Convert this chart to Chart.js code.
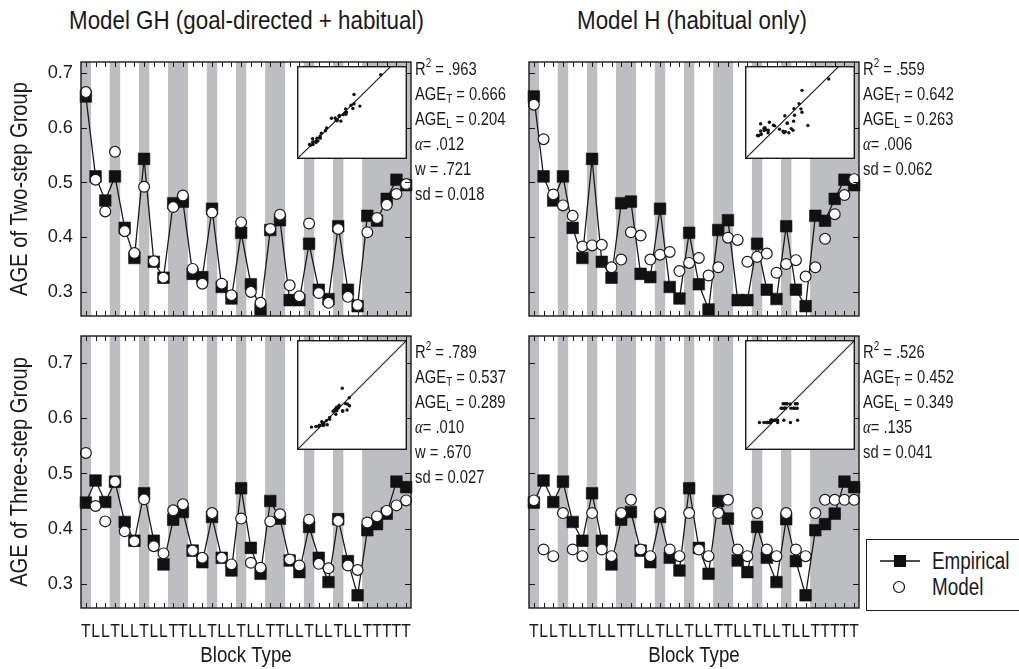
<!DOCTYPE html>
<html>
<head>
<meta charset="utf-8">
<script src="https://cdn.jsdelivr.net/npm/chart.js@4.4.1/dist/chart.umd.min.js"></script>
<style>
  html, body { margin: 0; padding: 0; background: #fff; }
  body { width: 1019px; height: 669px; position: relative; overflow: hidden;
         font-family: "Liberation Sans", Arial, sans-serif; color: #1a1a1a; }
  canvas { position: absolute; }
  .txt { position: absolute; white-space: nowrap; }
  .title { font-size: 26px; line-height: 30px; text-align: center; transform: scaleX(0.86); transform-origin: center; }
  .stats { font-size: 18px; line-height: 25px; transform: scaleX(0.82); transform-origin: left top; }
  .stats sub { font-size: 12px; vertical-align: -3px; line-height: 0; }
  .stats sup { font-size: 12px; vertical-align: 8px; line-height: 0; }
  .alpha { font-family: "Liberation Serif", "DejaVu Serif", serif; font-style: italic; }
  .legend { position: absolute; left: 866px; top: 539px; width: 170px; height: 70px;
            border: 1.5px solid #1a1a1a; background: #fff; }
  .legend .row { position: absolute; height: 26px; font-size: 23px; line-height: 26px;
                 transform: scaleX(0.82); transform-origin: left center; }
  .legend svg { position: absolute; left: 0; top: 0; }
</style>
</head>
<body>
<div class="txt title" style="left:41px;width:400px;top:5px;">Model GH (goal-directed + habitual)</div>
<div class="txt title" style="left:492px;width:400px;top:5px;">Model H (habitual only)</div>

<canvas id="pTL" width="420" height="294" style="left:0;top:42px;width:420px;height:294px"></canvas>
<canvas id="pTR" width="368" height="294" style="left:500px;top:42px;width:368px;height:294px"></canvas>
<canvas id="pBL" width="420" height="353" style="left:0;top:316px;width:420px;height:353px"></canvas>
<canvas id="pBR" width="368" height="353" style="left:500px;top:316px;width:368px;height:353px"></canvas>

<canvas id="iTL" width="118" height="101" style="left:293px;top:62px;width:118px;height:101px"></canvas>
<canvas id="iTR" width="118" height="101" style="left:741px;top:62px;width:118px;height:101px"></canvas>
<canvas id="iBL" width="118" height="118" style="left:293px;top:336px;width:118px;height:118px"></canvas>
<canvas id="iBR" width="118" height="118" style="left:741px;top:336px;width:118px;height:118px"></canvas>

<div class="txt stats" style="left:415px;top:57px;">
  <div>R<sup>2</sup> = .963</div>
  <div>AGE<sub>T</sub> = 0.666</div>
  <div>AGE<sub>L</sub> = 0.204</div>
  <div><span class="alpha">α</span>= .012</div>
  <div>w = .721</div>
  <div>sd = 0.018</div>
</div>
<div class="txt stats" style="left:863px;top:57px;">
  <div>R<sup>2</sup> = .559</div>
  <div>AGE<sub>T</sub> = 0.642</div>
  <div>AGE<sub>L</sub> = 0.263</div>
  <div><span class="alpha">α</span>= .006</div>
  <div>sd = 0.062</div>
</div>
<div class="txt stats" style="left:415px;top:340px;">
  <div>R<sup>2</sup> = .789</div>
  <div>AGE<sub>T</sub> = 0.537</div>
  <div>AGE<sub>L</sub> = 0.289</div>
  <div><span class="alpha">α</span>= .010</div>
  <div>w = .670</div>
  <div>sd = 0.027</div>
</div>
<div class="txt stats" style="left:863px;top:340px;">
  <div>R<sup>2</sup> = .526</div>
  <div>AGE<sub>T</sub> = 0.452</div>
  <div>AGE<sub>L</sub> = 0.349</div>
  <div><span class="alpha">α</span>= .135</div>
  <div>sd = 0.041</div>
</div>

<div class="legend">
  <svg width="70" height="70">
    <line x1="13" y1="21" x2="53" y2="21" stroke="#111" stroke-width="1.3"/>
    <rect x="27" y="15" width="12" height="12" fill="#111"/>
    <circle cx="32" cy="47" r="5.5" fill="#fff" stroke="#111" stroke-width="1.2"/>
  </svg>
  <div class="row" style="left:65px;top:8px;">Empirical</div>
  <div class="row" style="left:65px;top:34px;">Model</div>
</div>

<script>
// Block sequence (T and L blocks in presentation order)
const blockTypes = ['T','L','L','T','L','L','T','L','L','T','T','L','L','T','L','L','T','L','L',
                    'T','T','L','L','T','L','L','T','L','L','T','T','T','T','T'];

// Two-step group
const empiricalTwoStep = [0.657, 0.511, 0.467, 0.511, 0.417, 0.362, 0.543, 0.355, 0.326, 0.462,
                          0.465, 0.333, 0.327, 0.452, 0.309, 0.288, 0.408, 0.314, 0.268, 0.413,
                          0.431, 0.285, 0.285, 0.388, 0.304, 0.287, 0.420, 0.304, 0.274, 0.439,
                          0.430, 0.470, 0.505, 0.495];
const modelGHTwoStep = [0.665, 0.505, 0.447, 0.556, 0.411, 0.371, 0.492, 0.356, 0.326, 0.455,
                        0.476, 0.342, 0.315, 0.445, 0.315, 0.294, 0.427, 0.300, 0.280, 0.415,
                        0.441, 0.312, 0.292, 0.425, 0.298, 0.280, 0.415, 0.291, 0.276, 0.409,
                        0.435, 0.459, 0.479, 0.497];
const modelHTwoStep = [0.642, 0.579, 0.478, 0.458, 0.439, 0.383, 0.385, 0.386, 0.345, 0.359,
                       0.409, 0.403, 0.359, 0.368, 0.373, 0.338, 0.353, 0.362, 0.330, 0.345,
                       0.399, 0.395, 0.355, 0.364, 0.370, 0.335, 0.351, 0.358, 0.328, 0.345,
                       0.397, 0.442, 0.477, 0.506];

// Three-step group
const empiricalThreeStep = [0.447, 0.487, 0.448, 0.485, 0.412, 0.378, 0.464, 0.378, 0.335, 0.416,
                            0.430, 0.360, 0.339, 0.421, 0.347, 0.324, 0.473, 0.365, 0.318, 0.450,
                            0.418, 0.342, 0.321, 0.403, 0.347, 0.303, 0.417, 0.341, 0.279, 0.397,
                            0.408, 0.427, 0.485, 0.475];
const modelGHThreeStep = [0.537, 0.441, 0.413, 0.485, 0.395, 0.377, 0.453, 0.368, 0.355, 0.433,
                          0.444, 0.360, 0.347, 0.428, 0.347, 0.335, 0.418, 0.338, 0.329, 0.413,
                          0.426, 0.344, 0.333, 0.416, 0.336, 0.328, 0.414, 0.333, 0.325, 0.411,
                          0.422, 0.432, 0.442, 0.451];
const modelHThreeStep = [0.451, 0.362, 0.350, 0.428, 0.362, 0.350, 0.428, 0.362, 0.350, 0.428,
                         0.452, 0.362, 0.350, 0.428, 0.362, 0.350, 0.428, 0.362, 0.350, 0.428,
                         0.452, 0.362, 0.350, 0.428, 0.362, 0.350, 0.428, 0.362, 0.350, 0.428,
                         0.452, 0.452, 0.452, 0.452];

const yTicks = [0.3, 0.4, 0.5, 0.6, 0.7];

const FONT = '"Liberation Sans", Arial, sans-serif';
const INK = '#1a1a1a';
const BAND = '#bdbec2';
const SQUEEZE = 0.83;   // horizontal compression giving a condensed typeface look

Chart.defaults.font.family = FONT;
Chart.defaults.color = INK;
Chart.defaults.animation = false;

function squeezedText(ctx, text, x, y, o) {
  ctx.save();
  ctx.translate(x, y);
  if (o.rotate) ctx.rotate(o.rotate);
  ctx.scale(o.sx || SQUEEZE, 1);
  ctx.font = o.size + 'px ' + FONT;
  ctx.textAlign = o.align || 'center';
  ctx.textBaseline = o.baseline || 'alphabetic';
  ctx.fillStyle = INK;
  ctx.fillText(text, 0, 0);
  ctx.restore();
}

// Frame around the plot area with inward tick marks on all four sides
const frameTicks = {
  id: 'frameTicks',
  afterDatasetsDraw(chart) {
    const { ctx, chartArea: a, scales: { x, y } } = chart;
    ctx.save();
    ctx.strokeStyle = INK;
    ctx.lineWidth = 1;
    ctx.beginPath();
    yTicks.forEach(v => {
      const py = Math.round(y.getPixelForValue(v)) + 0.5;
      ctx.moveTo(a.left, py); ctx.lineTo(a.left + 6, py);
      ctx.moveTo(a.right, py); ctx.lineTo(a.right - 6, py);
    });
    x.ticks.forEach((t, i) => {
      const px = Math.round(x.getPixelForTick(i)) + 0.5;
      ctx.moveTo(px, a.top); ctx.lineTo(px, a.top + 5);
      ctx.moveTo(px, a.bottom); ctx.lineTo(px, a.bottom - 5);
    });
    ctx.stroke();
    ctx.lineWidth = 1.4;
    ctx.strokeRect(a.left, a.top, a.right - a.left, a.bottom - a.top);
    ctx.restore();
  }
};

// Tick labels and axis titles, placed from the chart's own scales
const axisText = {
  id: 'axisText',
  afterDraw(chart, args, opts) {
    const { ctx, chartArea: a, scales: { x, y } } = chart;
    if (opts.yTitle) {
      yTicks.forEach(v => {
        squeezedText(ctx, v.toFixed(1), a.left - 8, y.getPixelForValue(v),
                     { size: 19, align: 'right', baseline: 'middle', sx: 0.96 });
      });
      squeezedText(ctx, opts.yTitle, 20, (a.top + a.bottom) / 2,
                   { size: 24, rotate: -Math.PI / 2, baseline: 'middle', sx: 0.84 });
    }
    if (opts.xTitle) {
      x.ticks.forEach((t, i) => {
        squeezedText(ctx, blockTypes[i], x.getPixelForTick(i), a.bottom + 29, { size: 19 });
      });
      squeezedText(ctx, opts.xTitle, (a.left + a.right) / 2, a.bottom + 54, { size: 22, sx: 0.85 });
    }
  }
};

function panel(id, o) {
  const bands = blockTypes.map(t => (t === 'T' ? [o.yMin, o.yMax] : null));
  return new Chart(document.getElementById(id), {
    type: 'bar',
    data: {
      labels: blockTypes,
      datasets: [
        { type: 'line', label: 'Model', data: o.model, showLine: false, order: 0,
          pointStyle: 'circle', pointRadius: 5.4, pointBorderWidth: 1.2,
          pointBackgroundColor: '#fff', pointBorderColor: INK },
        { type: 'line', label: 'Empirical', data: o.empirical, order: 1,
          borderColor: INK, borderWidth: 1.3, tension: 0,
          pointStyle: 'rect', pointRadius: 8.2, pointBorderWidth: 0.6,
          pointBackgroundColor: '#111', pointBorderColor: '#111' },
        { type: 'bar', label: 'T blocks', data: bands, order: 2,
          backgroundColor: BAND, borderWidth: 0, barPercentage: 1, categoryPercentage: 1 }
      ]
    },
    options: {
      responsive: false,
      events: [],
      layout: { padding: { left: 0, right: 9, top: o.topPad, bottom: o.bottomPad } },
      plugins: {
        legend: { display: false }, tooltip: { enabled: false },
        axisText: { yTitle: o.yTitle, xTitle: o.xTitle }
      },
      scales: {
        x: {
          type: 'category',
          offset: true,
          grid: { display: false, drawTicks: false },
          border: { display: false },
          ticks: { display: false, autoSkip: false, maxRotation: 0, minRotation: 0 },
          afterFit: s => { s.height = o.bottomH; }
        },
        y: {
          min: o.yMin, max: o.yMax,
          grid: { display: false, drawTicks: false },
          border: { display: false },
          ticks: { display: false, stepSize: 0.1, includeBounds: false },
          afterFit: s => { s.width = o.axisW; }
        }
      }
    },
    plugins: [frameTicks, axisText]
  });
}

// Inset: model vs. empirical with identity line
const insetFrame = {
  id: 'insetFrame',
  beforeDatasetsDraw(chart) {
    const { ctx, chartArea: a, scales: { x, y } } = chart;
    ctx.save();
    ctx.fillStyle = '#fff';
    ctx.fillRect(a.left, a.top, a.right - a.left, a.bottom - a.top);
    ctx.beginPath();
    ctx.rect(a.left, a.top, a.right - a.left, a.bottom - a.top);
    ctx.clip();
    ctx.strokeStyle = INK;
    ctx.lineWidth = 1.1;
    ctx.beginPath();
    const lo = Math.max(x.min, y.min), hi = Math.max(x.max, y.max);
    ctx.moveTo(x.getPixelForValue(lo), y.getPixelForValue(lo));
    ctx.lineTo(x.getPixelForValue(hi), y.getPixelForValue(hi));
    ctx.stroke();
    ctx.restore();
  },
  afterDatasetsDraw(chart) {
    const { ctx, chartArea: a } = chart;
    ctx.save();
    ctx.strokeStyle = INK;
    ctx.lineWidth = 1.4;
    ctx.strokeRect(a.left + 0.7, a.top + 0.7, a.right - a.left - 1.4, a.bottom - a.top - 1.4);
    ctx.restore();
  }
};

function inset(id, empirical, model, yMax) {
  return new Chart(document.getElementById(id), {
    type: 'scatter',
    data: {
      datasets: [{
        data: empirical.map((e, i) => ({ x: e, y: model[i] })),
        pointRadius: 1.7, pointBorderWidth: 0,
        pointBackgroundColor: '#111'
      }]
    },
    options: {
      responsive: false,
      events: [],
      layout: { padding: 0 },
      plugins: { legend: { display: false }, tooltip: { enabled: false } },
      scales: {
        x: { type: 'linear', min: 0.2, max: 0.8, display: false },
        y: { type: 'linear', min: 0.2, max: yMax, display: false }
      }
    },
    plugins: [insetFrame]
  });
}

const TOP_MAX = 0.72, BOT_MAX = 0.749, Y_MIN = 0.256;

panel('pTL', { empirical: empiricalTwoStep, model: modelGHTwoStep, yMin: Y_MIN, yMax: TOP_MAX,
               yTitle: 'AGE of Two-step Group', xTitle: null, axisW: 81,
               topPad: 20, bottomH: 0, bottomPad: 20 });
panel('pTR', { empirical: empiricalTwoStep, model: modelHTwoStep, yMin: Y_MIN, yMax: TOP_MAX,
               yTitle: null, xTitle: null, axisW: 29,
               topPad: 20, bottomH: 0, bottomPad: 20 });
panel('pBL', { empirical: empiricalThreeStep, model: modelGHThreeStep, yMin: Y_MIN, yMax: BOT_MAX,
               yTitle: 'AGE of Three-step Group', xTitle: 'Block Type', axisW: 81,
               topPad: 20, bottomH: 61, bottomPad: 0 });
panel('pBR', { empirical: empiricalThreeStep, model: modelHThreeStep, yMin: Y_MIN, yMax: BOT_MAX,
               yTitle: null, xTitle: 'Block Type', axisW: 29,
               topPad: 20, bottomH: 61, bottomPad: 0 });

const INSET_TOP_MAX = 0.2 + 0.6 * 101 / 118;
inset('iTL', empiricalTwoStep, modelGHTwoStep, INSET_TOP_MAX);
inset('iTR', empiricalTwoStep, modelHTwoStep, INSET_TOP_MAX);
inset('iBL', empiricalThreeStep, modelGHThreeStep, 0.8);
inset('iBR', empiricalThreeStep, modelHThreeStep, 0.8);
</script>
</body>
</html>
